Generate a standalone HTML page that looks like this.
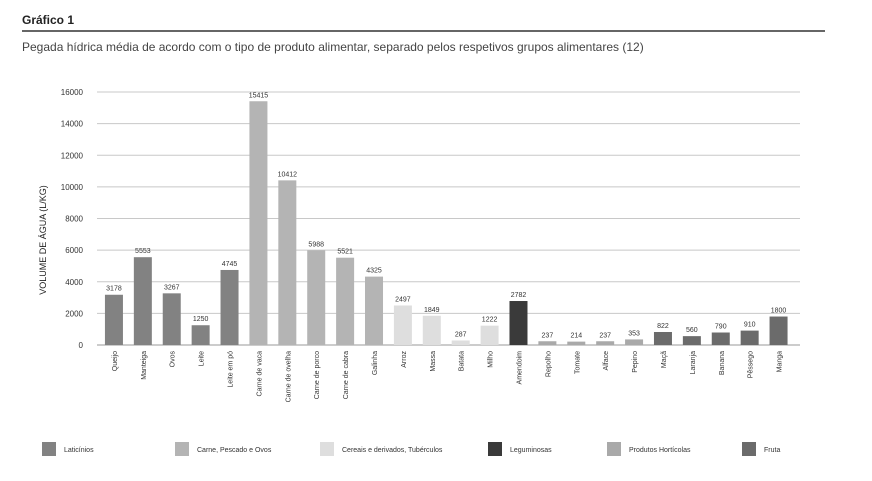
<!DOCTYPE html>
<html><head><meta charset="utf-8"><style>
body{margin:0;background:#fff;width:872px;height:481px;overflow:hidden;font-family:"Liberation Sans",sans-serif}
svg{display:block}
</style></head><body>
<svg width="872" height="481">
<text x="22" y="24" font-size="12" font-weight="bold" fill="#222">Gráfico 1</text>
<line x1="22" y1="31" x2="825" y2="31" stroke="#333" stroke-width="1.5"/>
<text x="22" y="51" font-size="12" fill="#444">Pegada hídrica média de acordo com o tipo de produto alimentar, separado pelos respetivos grupos alimentares (12)</text>
<text transform="translate(46,240) rotate(-90)" text-anchor="middle" font-size="9" fill="#222">VOLUME DE ÁGUA (L/KG)</text>
<g id="grid"></g><g id="bars"></g><g id="legend"></g>
</svg>
<script>
const categories=["Queijo","Manteiga","Ovos","Leite","Leite em pó","Carne de vaca","Carne de ovelha","Carne de porco","Carne de cabra","Galinha","Arroz","Massa","Batata","Milho","Amendoim","Repolho","Tomate","Alface","Pepino","Maçã","Laranja","Banana","Pêssego","Manga"];
const values=[3178,5553,3267,1250,4745,15415,10412,5988,5521,4325,2497,1849,287,1222,2782,237,214,237,353,822,560,790,910,1800];
const groups=[0,0,0,0,0,1,1,1,1,1,2,2,2,2,3,4,4,4,4,5,5,5,5,5];
const groupNames=["Laticínios","Carne, Pescado e Ovos","Cereais e derivados, Tubérculos","Leguminosas","Produtos Hortícolas","Fruta"];
const groupColors=["#828282","#b4b4b4","#dedede","#3a3a3a","#a9a9a9","#6b6b6b"];
const yTicks=[0,2000,4000,6000,8000,10000,12000,14000,16000];
const NS="http://www.w3.org/2000/svg";
const x0=97,x1=800,xa=99.5,xb=793,yBase=345,yTop=92,yMax=16000;
const y=v=>yBase-(v/yMax)*(yBase-yTop);
const step=(xb-xa)/categories.length;
const xc=i=>xa+step*(i+0.5);
function mk(t,a,p){const e=document.createElementNS(NS,t);for(const k in a)e.setAttribute(k,a[k]);p.appendChild(e);return e;}
const grid=document.getElementById('grid');
yTicks.forEach(t=>{
 const l=mk('line',{x1:x0,x2:x1,y1:y(t),y2:y(t),stroke:t===0?'#999':'#c8c8c8','stroke-width':1},grid);
 
 
 const tx=mk('text',{x:83,y:y(t)+3,'text-anchor':'end','font-size':8,fill:'#333'},grid);tx.textContent=t;
 
 
});
const bars=document.getElementById('bars');
const bw=18;
categories.forEach((c,i)=>{
 const r=mk('rect',{x:xc(i)-bw/2,y:y(values[i]),width:bw,height:yBase-y(values[i]),fill:groupColors[groups[i]]},bars);
 
 
 const v=mk('text',{x:xc(i),y:y(values[i])-4,'text-anchor':'middle','font-size':7,fill:'#333'},bars);v.textContent=values[i];
 
 
 const t=mk('text',{transform:`translate(${xc(i)+3},351) rotate(-90)`,'text-anchor':'end','font-size':7,fill:'#333'},bars);t.textContent=c;
 
 
});
const lx=[42,175,320,488,607,742];
const lg=document.getElementById('legend');
groupNames.forEach((g,i)=>{
 const r=mk('rect',{x:lx[i],y:442,width:14,height:14,fill:groupColors[i]},lg);
 
 
 const t=mk('text',{x:lx[i]+22,y:452,'font-size':7,fill:'#333'},lg);t.textContent=g;
 
 
});
</script>
</body></html>
